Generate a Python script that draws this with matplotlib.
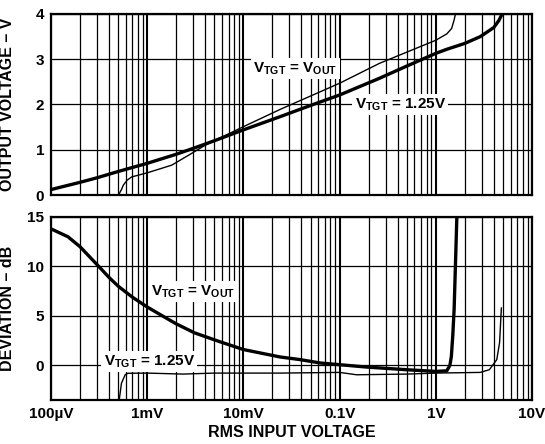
import matplotlib
matplotlib.use('Agg')
import matplotlib.pyplot as plt

plt.rcParams['font.family'] = ['Liberation Sans', 'DejaVu Sans']
plt.rcParams['font.weight'] = 'bold'
plt.rcParams['mathtext.fontset'] = 'custom'
plt.rcParams['mathtext.rm'] = 'Liberation Sans:bold'
plt.rcParams['mathtext.bf'] = 'Liberation Sans:bold'

# Données
# Haut : tension de sortie (V) en fonction de la tension d'entrée RMS (V)
vin_out_125 = [1e-4, 2e-4, 3e-4, 5e-4, 1e-3, 2e-3, 3e-3, 5e-3, 1e-2, 2.4e-2,
               5e-2, 0.1, 0.26, 0.5, 1.0, 1.3, 2.0, 2.9, 4.0, 4.5, 4.9]
vout_125 = [0.12, 0.28, 0.38, 0.52, 0.70, 0.90, 1.03, 1.20, 1.44, 1.73,
            1.98, 2.21, 2.58, 2.85, 3.13, 3.22, 3.35, 3.50, 3.70, 3.85, 4.0]

vin_out_vout = [5.1e-4, 5.2e-4, 5.4e-4, 5.65e-4, 6.2e-4, 6.9e-4, 1e-3, 1.8e-3,
                2.9e-3, 4e-3, 1e-2, 2.4e-2, 0.1, 0.26, 1.0, 1.3, 1.46, 1.55, 1.6]
vout_vout = [0.0, 0.06, 0.12, 0.22, 0.33, 0.40, 0.49, 0.66,
             0.92, 1.10, 1.51, 1.89, 2.47, 2.91, 3.42, 3.56, 3.68, 3.87, 4.0]

# Bas : écart (dB)
vin_dev_vout = [1e-4, 1.5e-4, 2e-4, 3e-4, 4e-4, 5e-4, 7e-4, 1e-3, 1.5e-3, 2e-3,
                3.1e-3, 5.5e-3, 1e-2, 2.4e-2, 3.9e-2, 6.3e-2, 0.1, 0.19, 0.5,
                1.0, 1.3, 1.4, 1.45, 1.5, 1.55, 1.62, 1.66]
dev_vout = [13.8, 13.0, 12.0, 10.2, 8.9, 8.0, 6.9, 5.9, 4.9, 4.2,
            3.29, 2.44, 1.6, 0.85, 0.58, 0.24, 0.07, -0.17, -0.44,
            -0.61, -0.55, 0.0, 0.9, 3.0, 5.7, 12.0, 15.5]

vin_dev_125 = [5.1e-4, 5.4e-4, 5.9e-4, 6.3e-4, 1e-3, 2.35e-3, 5e-3, 2.4e-2, 0.1,
               0.15, 0.5, 1.0, 2.9, 3.6, 4.3, 4.6, 4.8]
dev_125 = [-3.6, -1.8, -0.95, -0.8, -0.78, -0.88, -0.78, -0.78, -0.71,
           -0.95, -0.88, -0.78, -0.71, -0.44, 0.58, 2.3, 5.8]

x_ticks = [1e-4, 1e-3, 1e-2, 0.1, 1, 10]
x_labels = ['100\u00b5V', '1mV', '10mV', '0.1V', '1V', '10V']

fig = plt.figure(figsize=(5.45, 4.44), dpi=100)
ax1 = fig.add_axes([0.0936, 0.5608, 0.8826, 0.4077])
ax2 = fig.add_axes([0.0936, 0.0991, 0.8826, 0.4122])

for ax in (ax1, ax2):
    ax.set_xscale('log')
    ax.set_xlim(1e-4, 10)
    ax.set_xticks(x_ticks)
    ax.grid(which='major', axis='x', color='black', linewidth=1.5)
    ax.grid(which='minor', axis='x', color='black', linewidth=0.9)
    ax.grid(which='major', axis='y', color='black', linewidth=0.9)
    ax.tick_params(which='both', length=0, labelsize=11, pad=5)
    for s in ax.spines.values():
        s.set_linewidth(1.6)

# Panneau du haut
ax1.plot(vin_out_125, vout_125, color='black', linewidth=2.4, zorder=3)
ax1.plot(vin_out_vout, vout_vout, color='black', linewidth=1.0, zorder=3)
ax1.set_ylim(0, 4)
ax1.set_yticks([0, 1, 2, 3, 4])
ax1.tick_params(labelbottom=False)
ax1.set_ylabel('OUTPUT VOLTAGE \u2013 V', fontsize=11.5, fontweight='bold')
ax1.yaxis.set_label_coords(-0.075, 0.5)

box = dict(facecolor='white', edgecolor='none', pad=1.5)
ax1.text(0.508, 2.8, r'V$_\mathbf{TGT}$ = V$_\mathbf{OUT}$', transform=ax1.get_yaxis_transform(),
         ha='center', va='center', fontsize=11, fontweight='bold', bbox=box, zorder=4)
ax1.text(0.726, 2.0, r'V$_\mathbf{TGT}$ = 1.25V', transform=ax1.get_yaxis_transform(),
         ha='center', va='center', fontsize=11, fontweight='bold', bbox=box, zorder=4)

# Panneau du bas
ax2.plot(vin_dev_vout, dev_vout, color='black', linewidth=2.4, zorder=3)
ax2.plot(vin_dev_125, dev_125, color='black', linewidth=1.0, zorder=3)
ax2.set_ylim(-3.5, 15)
ax2.set_yticks([0, 5, 10, 15])
ax2.set_xticklabels(x_labels)
ax2.set_ylabel('DEVIATION \u2013 dB', fontsize=11.5, fontweight='bold')
ax2.yaxis.set_label_coords(-0.075, 0.5)
ax2.set_xlabel('RMS INPUT VOLTAGE', fontsize=11.5, fontweight='bold')
ax2.xaxis.set_label_coords(0.5, -0.135)

ax2.text(0.296, 7.5, r'V$_\mathbf{TGT}$ = V$_\mathbf{OUT}$', transform=ax2.get_yaxis_transform(),
         ha='center', va='center', fontsize=11, fontweight='bold', bbox=box, zorder=4)
ax2.text(0.204, 0.4, r'V$_\mathbf{TGT}$ = 1.25V', transform=ax2.get_yaxis_transform(),
         ha='center', va='center', fontsize=11, fontweight='bold', bbox=box, zorder=4)

plt.savefig('out.png', dpi=100)
